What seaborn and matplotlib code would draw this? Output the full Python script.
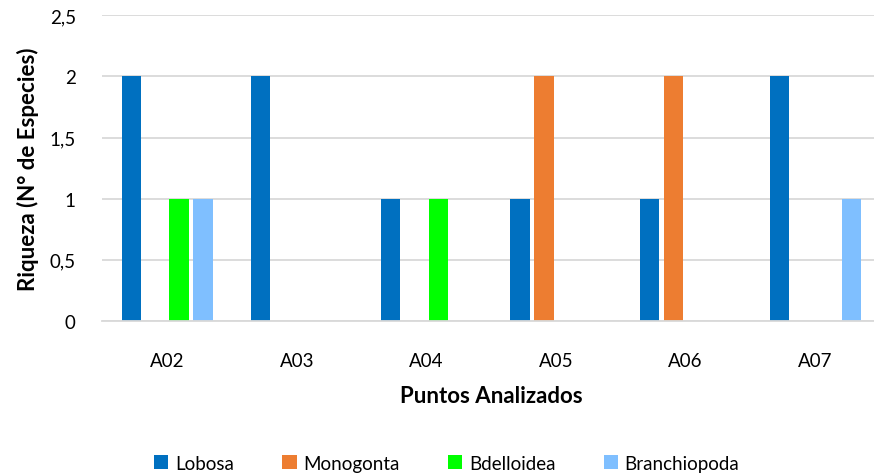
import pandas as pd
import matplotlib.pyplot as plt
import matplotlib.ticker as mticker
import seaborn as sns

# Data
puntos = ['A02', 'A03', 'A04', 'A05', 'A06', 'A07']
lobosa = [2, 2, 1, 1, 1, 2]
monogonta = [0, 0, 0, 2, 2, 0]
bdelloidea = [1, 0, 1, 0, 0, 0]
branchiopoda = [1, 0, 0, 0, 0, 1]

grupos = ['Lobosa', 'Monogonta', 'Bdelloidea', 'Branchiopoda']
colores = ['#0070C0', '#ED7D31', '#00FF00', '#7FBFFF']

df = pd.DataFrame({'Punto': puntos, 'Lobosa': lobosa, 'Monogonta': monogonta,
                   'Bdelloidea': bdelloidea, 'Branchiopoda': branchiopoda})
df_long = df.melt(id_vars='Punto', var_name='Grupo', value_name='Riqueza')

sns.set_theme(style='white')
plt.rcParams['font.family'] = ['Lato', 'DejaVu Sans']
plt.rcParams['text.color'] = 'black'

fig = plt.figure(figsize=(8.74, 4.77), dpi=100)
ax = fig.add_axes([0.117, 0.325, 0.890, 0.641])

sns.barplot(data=df_long, x='Punto', y='Riqueza', hue='Grupo', hue_order=grupos,
            palette=colores, width=0.74, gap=0.2, saturation=1, linewidth=0,
            ax=ax, legend=True)

ax.set_ylim(0, 2.5)
ax.set_yticks([0, 0.5, 1, 1.5, 2, 2.5])
ax.yaxis.set_major_formatter(mticker.FuncFormatter(
    lambda v, p: (f"{v:g}").replace('.', ',')))
ax.grid(axis='y', color='#D9D9D9', linewidth=1.3)
ax.set_axisbelow(True)
for s in ['top', 'right', 'left']:
    ax.spines[s].set_visible(False)
ax.spines['bottom'].set_color('#D9D9D9')
ax.spines['bottom'].set_linewidth(1.3)
ax.tick_params(axis='both', length=0, labelsize=13.5, labelcolor='black')
ax.tick_params(axis='x', pad=22)
ax.tick_params(axis='y', pad=19)

ax.set_xlabel('Puntos Analizados', fontsize=16, fontweight='bold', labelpad=12,
              color='black')
ax.set_ylabel('Riqueza (N° de Especies)', fontsize=16, fontweight='bold', labelpad=8,
              color='black')

ax.legend(loc='center', bbox_to_anchor=(0.443, -0.465), ncol=4, frameon=False,
          fontsize=13.5, handlelength=0.75, handleheight=0.75, handletextpad=0.35,
          columnspacing=2.6, labelcolor='black')

plt.savefig('out.png', dpi=100)
plt.close()
